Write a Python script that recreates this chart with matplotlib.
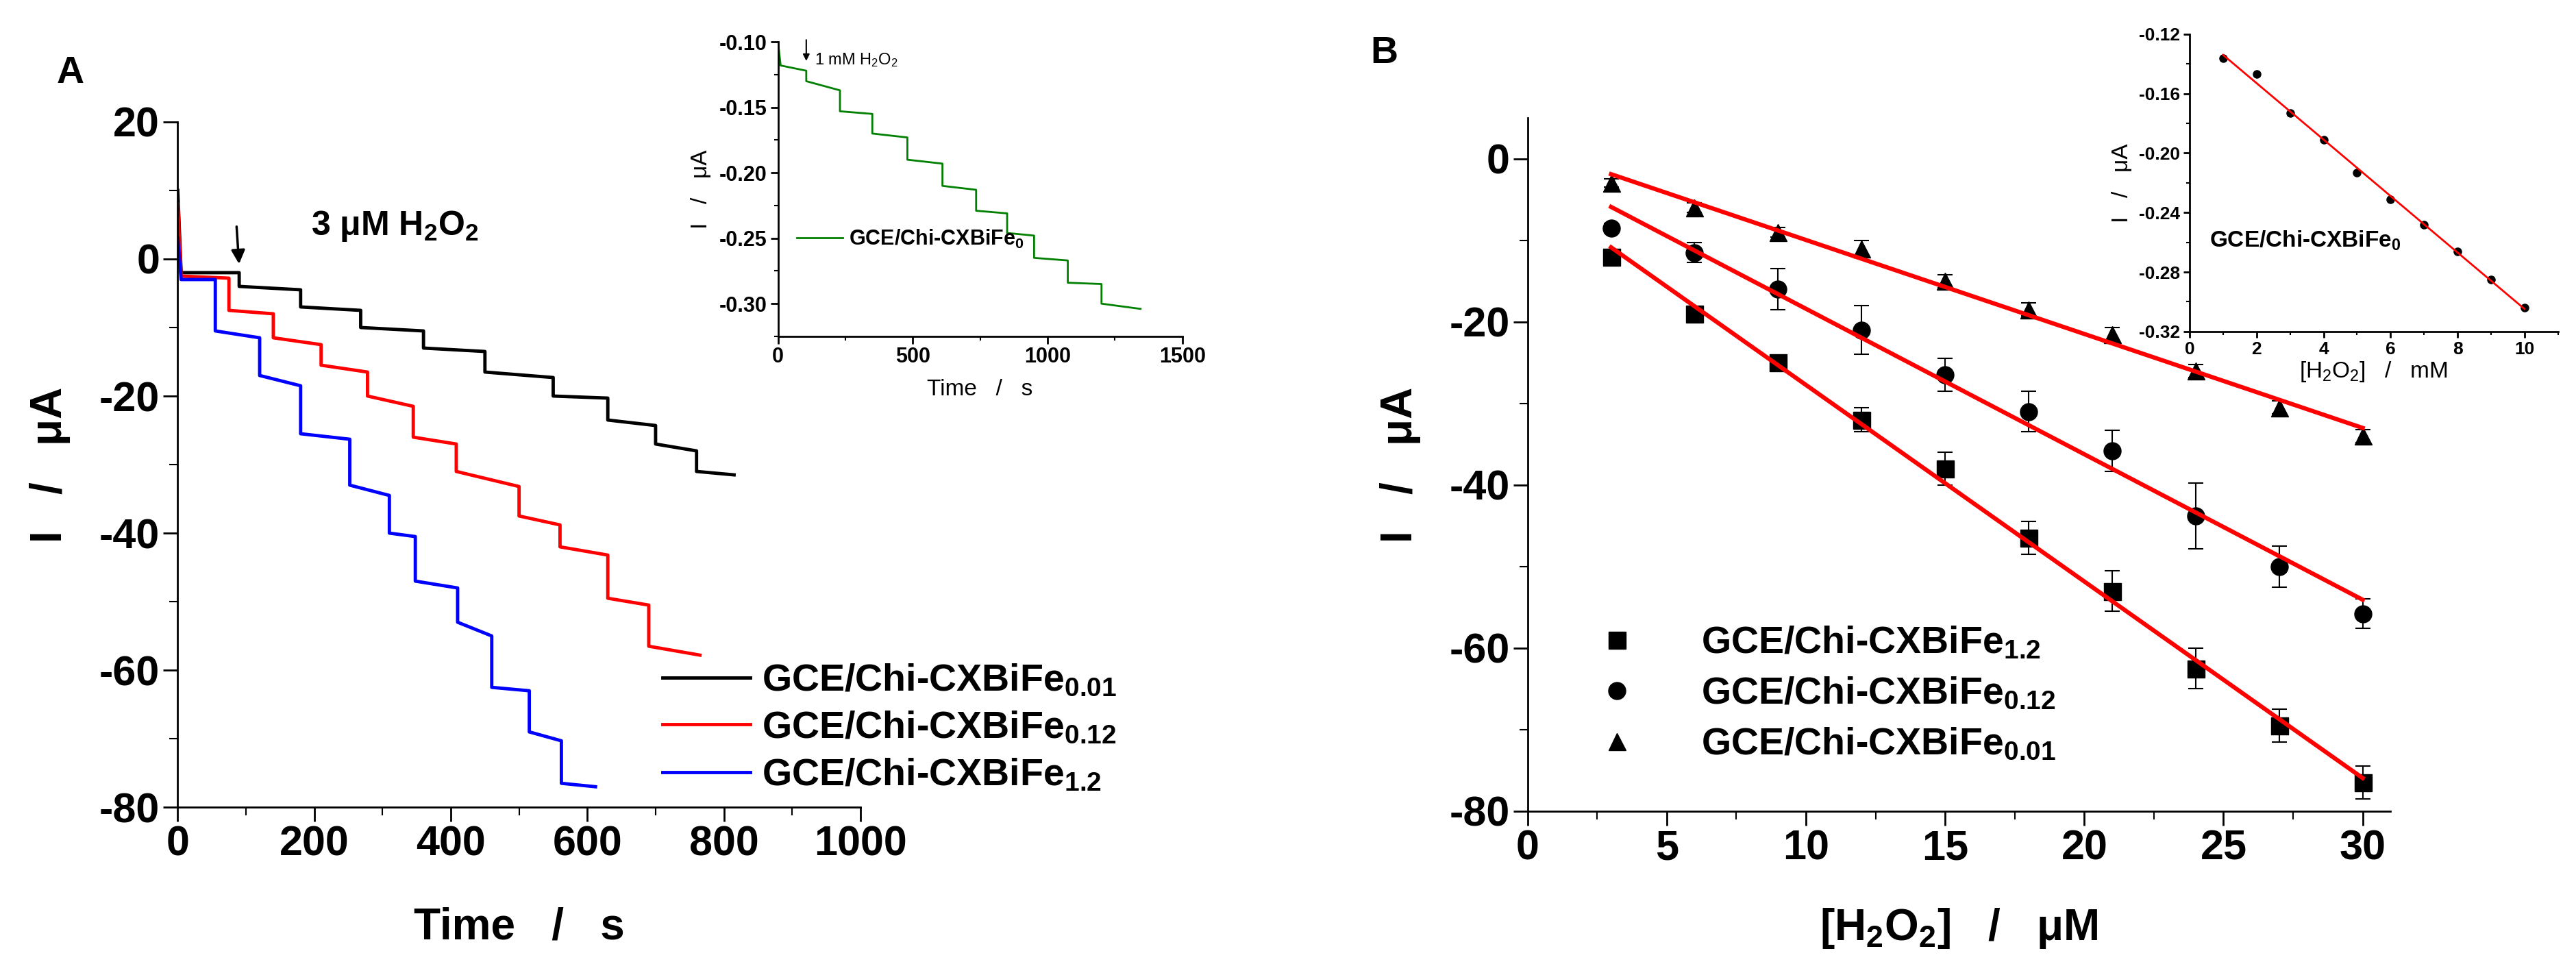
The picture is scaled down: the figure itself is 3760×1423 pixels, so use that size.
import numpy as np
import matplotlib.pyplot as plt
from matplotlib.ticker import MultipleLocator

plt.rcParams['font.family'] = ['Liberation Sans', 'DejaVu Sans']
plt.rcParams['font.weight'] = 'bold'
plt.rcParams['mathtext.default'] = 'regular'
plt.rcParams['axes.unicode_minus'] = False

# panel A: plateaus (start times + end time, level at plateau start, level at plateau end)
t_001 = [0, 5, 90, 180, 268, 360, 450, 550, 630, 700, 760, 815]
a_001 = [10, -2, -4, -7, -10, -13, -16.5, -20, -23.5, -27, -31]
b_001 = [-2, -2, -4.5, -7.5, -10.5, -13.5, -17.3, -20.3, -24.3, -28, -31.5]

t_012 = [0, 5, 75, 140, 210, 278, 345, 408, 500, 560, 630, 690, 765]
a_012 = [8, -2.5, -7.5, -11.5, -15.5, -20, -26, -31, -37.5, -42, -49.5, -56.5]
b_012 = [-2.5, -2.8, -8, -12.5, -16.5, -21.5, -27, -33.2, -38.8, -43.2, -50.5, -57.8]

t_12 = [0, 5, 55, 120, 180, 252, 310, 348, 410, 460, 515, 562, 612]
a_12 = [3, -3, -10.5, -17, -25.5, -33, -40, -47, -53, -62.5, -69, -76.5]
b_12 = [-3, -3, -11.5, -18.5, -26.3, -34.5, -40.5, -48, -55, -63, -70.3, -77]

# inset A: GCE/Chi-CXBiFe0
t_0 = [0, 10, 105, 230, 350, 480, 610, 735, 850, 950, 1075, 1200, 1345]
a_0 = [-0.10, -0.118, -0.13, -0.153, -0.17, -0.19, -0.21, -0.229, -0.246, -0.265, -0.284, -0.30]
b_0 = [-0.118, -0.122, -0.137, -0.155, -0.173, -0.193, -0.213, -0.231, -0.248, -0.267, -0.285, -0.304]

# panel B: calibration
conc = [3, 6, 9, 12, 15, 18, 21, 24, 27, 30]
i_12 = [-12, -19, -25, -32, -38, -46.5, -53, -62.5, -69.5, -76.5]
e_12 = [0.6, 0.8, 0.6, 1.5, 2, 2, 2.5, 2.5, 2, 2]
i_012 = [-8.5, -11.5, -16, -21, -26.5, -31, -35.8, -43.8, -50, -55.8]
e_012 = [0.6, 1.2, 2.5, 3, 2, 2.5, 2.5, 4, 2.5, 1.8]
i_001 = [-3, -6, -9, -11, -15, -18.5, -21.5, -26, -30.5, -34]
e_001 = [0.5, 0.6, 0.6, 1, 0.8, 0.8, 0.8, 0.8, 0.8, 0.8]

# inset B
conc_mM = [1, 2, 3, 4, 5, 6, 7, 8, 9, 10]
i_0 = [-0.136, -0.147, -0.173, -0.191, -0.213, -0.231, -0.248, -0.266, -0.285, -0.304]


def plateaus(t, a, b):
    xs, ys = [], []
    for i in range(len(a)):
        xs += [t[i], t[i + 1]]
        ys += [a[i], b[i]]
    return xs, ys


def style(ax, size):
    for s in ['top', 'right']:
        ax.spines[s].set_visible(False)
    for s in ['left', 'bottom']:
        ax.spines[s].set_linewidth(2)
    ax.tick_params(which='major', direction='out', length=size * 0.35, width=2, labelsize=size)
    ax.tick_params(which='minor', direction='out', length=size * 0.2, width=1.5)
    for lab in ax.get_xticklabels() + ax.get_yticklabels():
        lab.set_fontweight('bold')


fig = plt.figure(figsize=(37.6, 14.23), dpi=100)

# ---- panel A
ax = fig.add_axes([0.069, 0.172, 0.265, 0.703])
for (t, a, b), c, lab in [((t_001, a_001, b_001), 'black', 'GCE/Chi-CXBiFe$_{0.01}$'),
                          ((t_012, a_012, b_012), 'red', 'GCE/Chi-CXBiFe$_{0.12}$'),
                          ((t_12, a_12, b_12), 'blue', 'GCE/Chi-CXBiFe$_{1.2}$')]:
    xs, ys = plateaus(t, a, b)
    ax.plot(xs, ys, color=c, lw=3.5, label=lab)
ax.set_xlim(0, 1000)
ax.set_ylim(-80, 20)
ax.xaxis.set_major_locator(MultipleLocator(200))
ax.xaxis.set_minor_locator(MultipleLocator(100))
ax.yaxis.set_major_locator(MultipleLocator(20))
ax.yaxis.set_minor_locator(MultipleLocator(10))
style(ax, 44)
ax.set_xlabel('Time   /   s', fontsize=46, fontweight='bold', labelpad=45)
ax.set_ylabel('I   /   μA', fontsize=46, fontweight='bold', labelpad=30)
ax.annotate('', xy=(90, -1), xytext=(86, 5),
            arrowprops=dict(arrowstyle='-|>', color='black', lw=2.5, mutation_scale=30))
ax.text(195, 3.5, '3 μM H$_2$O$_2$', fontsize=36, fontweight='bold')
ax.legend(loc='lower left', bbox_to_anchor=(0.66, -0.03), frameon=False,
          handlelength=2.3, labelspacing=0.3, handletextpad=0.3, prop={'size': 40, 'weight': 'bold'})
fig.text(0.022, 0.915, 'A', fontsize=40, fontweight='bold')

# inset A
ia = fig.add_axes([0.302, 0.655, 0.157, 0.302])
xs, ys = plateaus(t_0, a_0, b_0)
ia.plot(xs, ys, color='green', lw=2, label='GCE/Chi-CXBiFe$_0$')
ia.set_xlim(0, 1500)
ia.set_ylim(-0.325, -0.10)
ia.xaxis.set_major_locator(MultipleLocator(500))
ia.xaxis.set_minor_locator(MultipleLocator(250))
ia.yaxis.set_major_locator(MultipleLocator(0.05))
ia.yaxis.set_minor_locator(MultipleLocator(0.025))
ia.yaxis.set_major_formatter(plt.FormatStrFormatter('%.2f'))
style(ia, 22)
ia.set_xlabel('Time   /   s', fontsize=24, labelpad=12)
ia.set_ylabel('I   /   μA', fontsize=24, labelpad=8)
ia.annotate('', xy=(105, -0.116), xytext=(105, -0.097),
            arrowprops=dict(arrowstyle='-|>', color='black', lw=1.5, mutation_scale=14),
            annotation_clip=False)
ia.text(135, -0.117, '1 mM H$_2$O$_2$', fontsize=17, fontweight='normal')
ia.legend(loc='center left', bbox_to_anchor=(0.0, 0.33), frameon=False,
          handlelength=2.2, handletextpad=0.3, prop={'size': 22, 'weight': 'bold'})

# ---- panel B
bx = fig.add_axes([0.593, 0.168, 0.335, 0.711])
handles = []
for y, e, m, lab in [(i_12, e_12, 's', 'GCE/Chi-CXBiFe$_{1.2}$'),
                     (i_012, e_012, 'o', 'GCE/Chi-CXBiFe$_{0.12}$'),
                     (i_001, e_001, '^', 'GCE/Chi-CXBiFe$_{0.01}$')]:
    bx.errorbar(conc, y, yerr=e, fmt='none', ecolor='black', capsize=8, elinewidth=1.5, capthick=1.5)
    h, = bx.plot(conc, y, m, color='black', ms=18, label=lab)
    handles.append(h)
    k, c0 = np.polyfit(conc, y, 1)
    bx.plot([conc[0], conc[-1]], [k * conc[0] + c0, k * conc[-1] + c0], color='red', lw=4.5)
bx.set_xlim(0, 31)
bx.set_ylim(-80, 5)
bx.xaxis.set_major_locator(MultipleLocator(5))
bx.xaxis.set_minor_locator(MultipleLocator(2.5))
bx.yaxis.set_major_locator(MultipleLocator(20))
bx.yaxis.set_minor_locator(MultipleLocator(10))
style(bx, 44)
bx.set_xlabel('[H$_2$O$_2$]   /   μM', fontsize=46, fontweight='bold', labelpad=40)
bx.set_ylabel('I   /   μA', fontsize=46, fontweight='bold', labelpad=30)
bx.legend(handles=handles, loc='lower left', bbox_to_anchor=(0.02, 0.02), frameon=False,
          handletextpad=1.2, labelspacing=0.4, prop={'size': 40, 'weight': 'bold'})
fig.text(0.532, 0.935, 'B', fontsize=40, fontweight='bold')

# inset B
ib = fig.add_axes([0.850, 0.660, 0.143, 0.305])
ib.plot(conc_mM, i_0, 'o', color='black', ms=8)
k, c0 = np.polyfit(conc_mM, i_0, 1)
ib.plot([conc_mM[0], conc_mM[-1]], [k * conc_mM[0] + c0, k * conc_mM[-1] + c0], color='red', lw=2)
ib.set_xlim(0, 11)
ib.set_ylim(-0.32, -0.12)
ib.xaxis.set_major_locator(MultipleLocator(2))
ib.xaxis.set_minor_locator(MultipleLocator(1))
ib.yaxis.set_major_locator(MultipleLocator(0.04))
ib.yaxis.set_minor_locator(MultipleLocator(0.02))
ib.yaxis.set_major_formatter(plt.FormatStrFormatter('%.2f'))
style(ib, 19)
ib.set_xlabel('[H$_2$O$_2$]   /   mM', fontsize=24, labelpad=2)
ib.set_ylabel('I   /   μA', fontsize=24, labelpad=6)
ib.text(0.6, -0.263, 'GCE/Chi-CXBiFe$_0$', fontsize=24, fontweight='bold')

fig.savefig('out.png', dpi=100)
